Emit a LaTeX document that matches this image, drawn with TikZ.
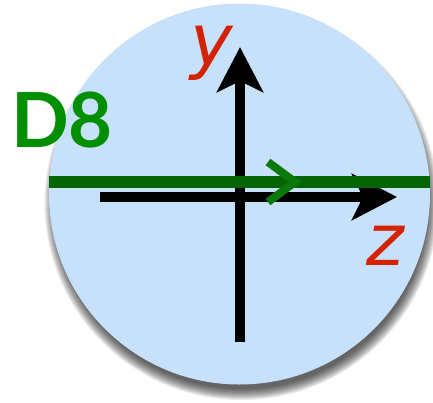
\documentclass[tikz,border=0pt]{standalone}
\usepackage{fontspec}
\setmainfont{DejaVu Sans}
\newfontfamily\dfont{Lato}
\usetikzlibrary{arrows.meta}
\definecolor{disc}{HTML}{C8E1FA}
\definecolor{lineg}{HTML}{056405}
\definecolor{chevg}{HTML}{0A780A}
\definecolor{textg}{HTML}{008F00}
\definecolor{labr}{HTML}{D42205}
\tikzset{
  axis/.style={line width=10pt, black, -{Stealth[length=45pt, width=46pt, inset=11pt]}},
  lab/.style={text=labr, inner sep=0pt, font=\fontsize{72}{72}\selectfont\itshape},
}
\begin{document}
\begin{tikzpicture}[x=1pt,y=-1pt]
\useasboundingbox (0,0) rectangle (433,402);
% shadow
\foreach \r in {186,187,...,197}
  \fill[black, opacity=0.075] (241.5,203) circle (\r);
\node[circle, fill=disc, minimum size=381pt, inner sep=0pt] (disc) at (239.5,194) {};
% axes
\coordinate (zs) at (100,197);
\coordinate (ze) at (397,197);
\coordinate (ys) at (240,342);
\coordinate (ye) at (240,47);
\draw[axis] (zs) -- (ze);
\draw[axis] (ys) -- (ye);
% green line
\coordinate (gl) at (49,182);
\coordinate (gr) at (430,182);
\draw[lineg, line width=12pt] (gl) -- (gr);
\coordinate (ca) at (268,162);
\coordinate (ct) at (295,182);
\coordinate (cb) at (268,202);
\draw[chevg, line width=8pt, line join=miter] (ca) -- (ct) -- (cb);
% labels
\node[lab] (ylab) at (212,53) {y};
\node[lab] (zlab) at (385,246) {z};
\node[text=textg, inner sep=0pt, font=\dfont\fontsize{76}{76}\selectfont\bfseries] (d8) at (62,120) {D8};
\end{tikzpicture}
\end{document}
